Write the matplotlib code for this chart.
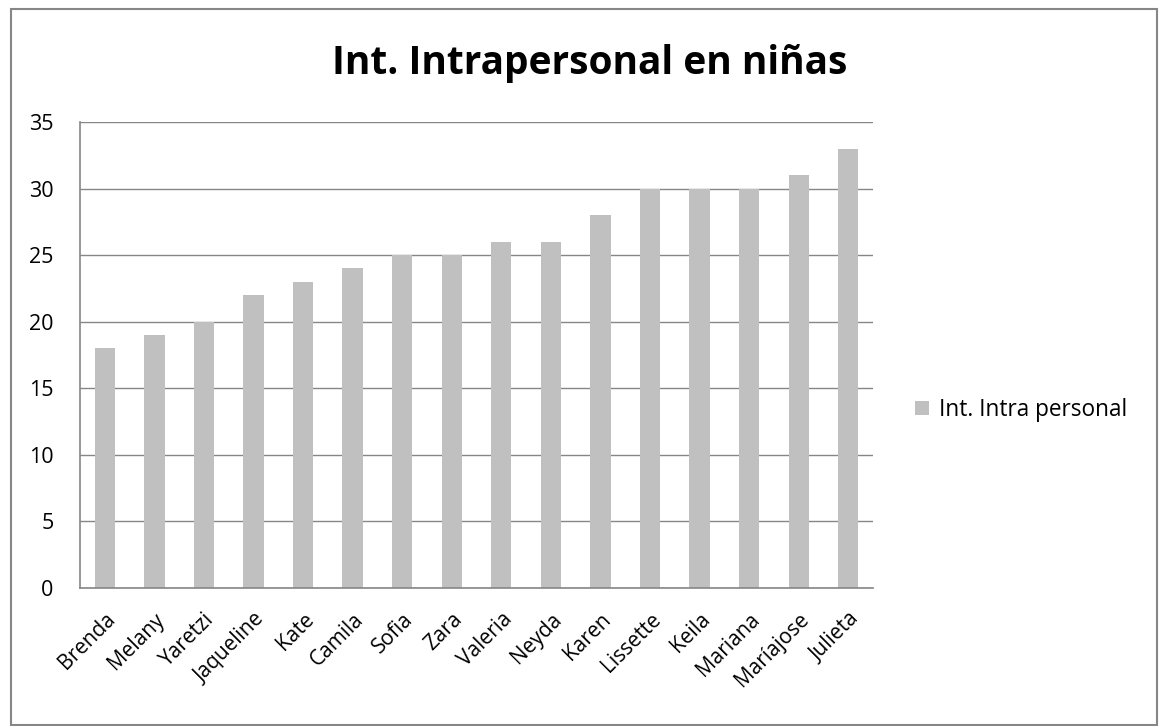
import matplotlib.pyplot as plt
from matplotlib.patches import Rectangle

names = ['Brenda', 'Melany', 'Yaretzi', 'Jaqueline', 'Kate', 'Camila', 'Sofia',
         'Zara', 'Valeria', 'Neyda', 'Karen', 'Lissette', 'Keila', 'Mariana',
         'Maríajose', 'Julieta']
scores = [18, 19, 20, 22, 23, 24, 25, 25, 26, 26, 28, 30, 30, 30, 31, 33]
yticks = [0, 5, 10, 15, 20, 25, 30, 35]

plt.rcParams['font.family'] = ['Open Sans', 'DejaVu Sans']

fig = plt.figure(figsize=(11.6, 7.26), dpi=100)
ax = fig.add_axes([0.069, 0.19, 0.6836, 0.642])

x = range(len(names))
ax.bar(x, scores, width=0.41, color='#c0c0c0', label='Int. Intra personal', zorder=2)

ax.set_xlim(-0.5, len(names) - 0.5)
ax.set_ylim(0, 35)
ax.set_yticks(yticks)
ax.set_xticks(list(x))
ax.set_xticklabels(names, rotation=45, ha='right', rotation_mode='anchor', fontsize=15)
ax.tick_params(axis='y', labelsize=15.5, length=0, pad=19)
ax.tick_params(axis='x', length=0, pad=15)
ax.grid(axis='y', color='#868686', linewidth=1.0, zorder=0)

for s in ['top', 'right']:
    ax.spines[s].set_visible(False)
for s in ['left', 'bottom']:
    ax.spines[s].set_color('#868686')
    ax.spines[s].set_linewidth(1.2)

fig.text(0.508, 0.913, 'Int. Intrapersonal en niñas', ha='center', va='center',
         fontsize=28, fontweight='bold')

fig.legend(loc='center left', bbox_to_anchor=(0.789, 0.435), frameon=False,
           fontsize=16.3, handlelength=0.6, handleheight=0.6, handletextpad=0.45,
           borderaxespad=0, borderpad=0)

fig.patches.append(Rectangle((0.0092, 0.0014), 0.988, 0.986, transform=fig.transFigure,
                             fill=False, edgecolor='#868686', linewidth=1.5))

plt.savefig('out.png', dpi=100)
